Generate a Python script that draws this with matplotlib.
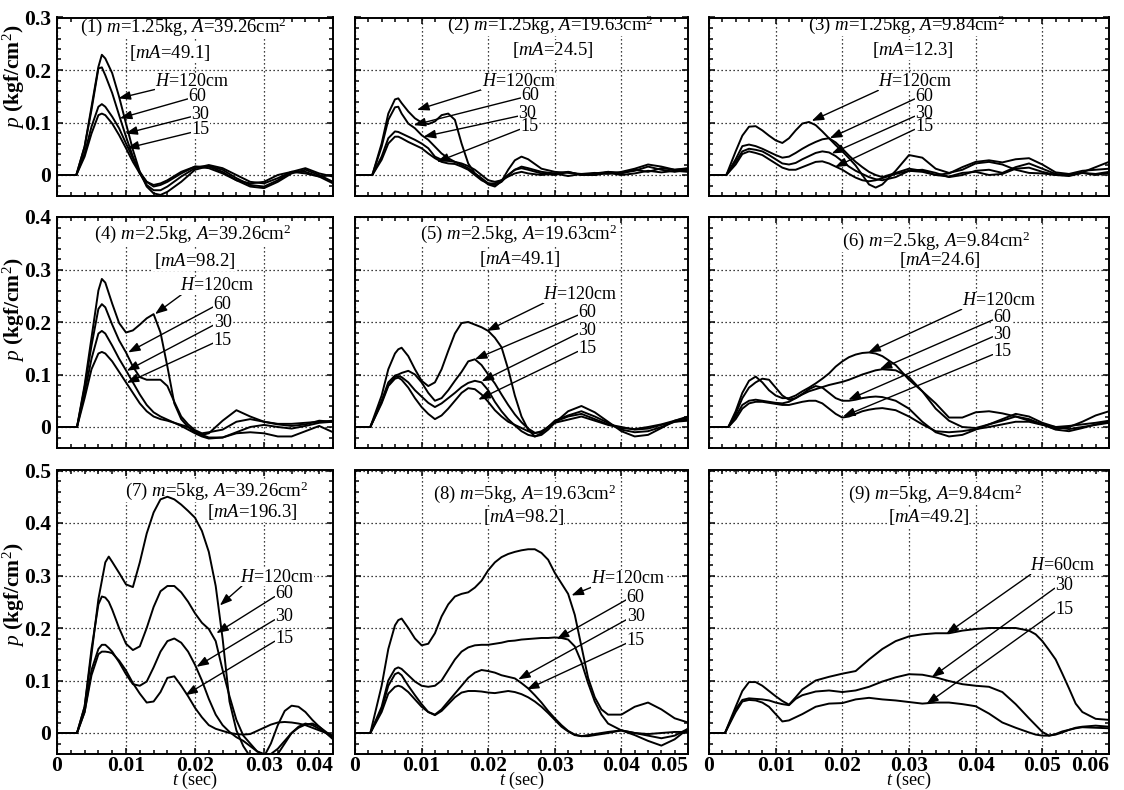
import matplotlib
matplotlib.use('Agg')
import matplotlib.pyplot as plt
from matplotlib.ticker import MultipleLocator, FormatStrFormatter

plt.rcParams['font.family'] = ['Liberation Serif', 'DejaVu Serif']
plt.rcParams['mathtext.fontset'] = 'custom'
plt.rcParams['mathtext.rm'] = 'Liberation Serif'
plt.rcParams['mathtext.it'] = 'Liberation Serif:italic'
plt.rcParams['mathtext.bf'] = 'Liberation Serif:bold'

# ---- data: time knots (sec) and pressure (kgf/cm2) ----
t1 = [0, 0.0028, 0.004, 0.005, 0.006, 0.0065, 0.007,
      0.008, 0.009, 0.010, 0.011, 0.012, 0.013, 0.014, 0.015, 0.016,
      0.018, 0.020, 0.022, 0.024, 0.026, 0.028, 0.030, 0.032, 0.034, 0.036, 0.038, 0.040]
p1_120 = [0, 0, 0.054, 0.13, 0.206, 0.229, 0.222,
          0.194, 0.149, 0.098, 0.048, 0.006, -0.022, -0.035, -0.038, -0.032,
          -0.013, 0.01, 0.017, 0.01, -0.006, -0.019, -0.022, -0.01, 0.006, 0.006, -0.003, -0.016]
p1_60 = [0, 0, 0.054, 0.124, 0.203, 0.205, 0.19,
         0.156, 0.114, 0.073, 0.035, 0.003, -0.019, -0.029, -0.029, -0.022,
         -0.003, 0.013, 0.019, 0.013, 0, -0.013, -0.016, -0.006, 0.006, 0.013, 0.003, -0.003]
p1_30 = [0, 0, 0.041, 0.092, 0.13, 0.135, 0.13,
         0.111, 0.089, 0.06, 0.032, 0.006, -0.013, -0.022, -0.019, -0.013,
         0.003, 0.016, 0.016, 0.006, -0.01, -0.022, -0.025, -0.013, 0.003, 0.01, 0, -0.013]
p1_15 = [0, 0, 0.035, 0.079, 0.114, 0.117, 0.114,
         0.098, 0.076, 0.051, 0.025, 0.003, -0.013, -0.019, -0.016, -0.01,
         0.006, 0.016, 0.013, 0.003, -0.01, -0.016, -0.013, 0, 0.006, 0.003, -0.003, 0]

t2 = [0, 0.0026, 0.004, 0.005, 0.006, 0.0065,
      0.007, 0.008, 0.009, 0.010, 0.011, 0.012, 0.013, 0.014, 0.015, 0.016,
      0.017, 0.018, 0.019, 0.020, 0.021, 0.022, 0.023, 0.024, 0.025,
      0.026, 0.028, 0.030, 0.032, 0.034, 0.036, 0.038, 0.040, 0.042, 0.044, 0.046, 0.048, 0.050]
p2_120 = [0, 0, 0.06, 0.117, 0.144, 0.146,
          0.137, 0.121, 0.108, 0.1, 0.097, 0.102, 0.114, 0.117, 0.105, 0.06,
          0.022, 0.003, -0.008, -0.018, -0.022, -0.012, 0.01, 0.028, 0.035,
          0.03, 0.012, 0.006, 0.004, 0.002, 0.004, 0.002, 0.006, 0.012, 0.02, 0.016, 0.01, 0.012]
p2_60 = [0, 0, 0.054, 0.105, 0.129, 0.13,
         0.117, 0.098, 0.089, 0.076, 0.067, 0.054, 0.041, 0.032, 0.025, 0.022,
         0.017, 0.01, 0.0, -0.01, -0.013, -0.01, 0.0, 0.01, 0.016,
         0.013, 0.006, 0.003, 0.006, 0.0, 0.003, 0.006, 0.004, 0.008, 0.016, 0.01, 0.006, 0.01]
p2_30 = [0, 0, 0.035, 0.07, 0.083, 0.082,
         0.079, 0.073, 0.067, 0.06, 0.051, 0.035, 0.029, 0.027, 0.025, 0.019,
         0.013, 0.003, -0.006, -0.016, -0.019, -0.013, 0.0, 0.01, 0.013,
         0.01, 0.003, 0.0, 0.006, 0.0, 0.0, 0.006, 0.003, 0.01, 0.006, 0.013, 0.01, 0.013]
p2_15 = [0, 0, 0.029, 0.06, 0.073, 0.073,
         0.07, 0.063, 0.057, 0.051, 0.041, 0.032, 0.025, 0.022, 0.021, 0.016,
         0.01, 0.0, -0.01, -0.016, -0.016, -0.01, -0.003, 0.003, 0.006,
         0.003, 0.0, 0.003, -0.002, 0.002, 0.0, 0.004, 0.0, 0.003, 0.008, 0.005, 0.008, 0.006]

t3 = [0, 0.0026,
      0.004, 0.005, 0.006, 0.007, 0.008, 0.009, 0.010, 0.011, 0.012, 0.013, 0.014,
      0.015, 0.016, 0.017, 0.018, 0.019, 0.020, 0.021, 0.022, 0.023, 0.024, 0.025,
      0.026, 0.028, 0.030, 0.032, 0.034, 0.036, 0.038, 0.040, 0.042, 0.044, 0.046,
      0.048, 0.050, 0.052, 0.054, 0.056, 0.058, 0.060]
p3_120 = [0, 0,
          0.045, 0.075, 0.092, 0.093, 0.085, 0.075, 0.066, 0.061, 0.07, 0.085, 0.098,
          0.101, 0.095, 0.083, 0.07, 0.057, 0.045, 0.032, 0.018, 0.0, -0.018, -0.024,
          -0.018, 0.008, 0.038, 0.033, 0.012, 0.004, 0.01, 0.022, 0.025, 0.02, 0.01,
          0.004, 0.003, 0.0, 0.0, 0.005, 0.015, 0.025]
p3_60 = [0, 0,
         0.03, 0.055, 0.058, 0.055, 0.05, 0.044, 0.038, 0.033, 0.035, 0.042, 0.05,
         0.057, 0.063, 0.068, 0.07, 0.062, 0.05, 0.037, 0.025, 0.015, 0.006, 0.0,
         -0.004, 0.004, 0.012, 0.008, 0.0, 0.003, 0.015, 0.025, 0.028, 0.024, 0.03,
         0.032, 0.02, 0.005, 0.002, 0.008, 0.01, 0.012]
p3_30 = [0, 0,
         0.025, 0.045, 0.05, 0.048, 0.045, 0.038, 0.03, 0.022, 0.02, 0.023, 0.03,
         0.036, 0.042, 0.045, 0.043, 0.036, 0.026, 0.016, 0.008, 0.002, -0.004, -0.008,
         -0.01, -0.004, 0.008, 0.01, 0.004, -0.004, 0.0, 0.008, 0.01, 0.004, 0.015,
         0.022, 0.012, 0.002, 0.0, 0.004, 0.002, 0.006]
p3_15 = [0, 0,
         0.02, 0.04, 0.045, 0.042, 0.038, 0.03, 0.022, 0.014, 0.01, 0.01, 0.015,
         0.02, 0.025, 0.026, 0.022, 0.016, 0.01, 0.002, -0.005, -0.01, -0.012, -0.01,
         -0.006, 0.002, 0.008, 0.006, 0.0, -0.003, 0.004, 0.006, 0.0, 0.002, 0.012,
         0.014, 0.006, 0.0, -0.002, 0.004, 0.0, 0.004]

t4 = [0, 0.0029, 0.004, 0.005, 0.006, 0.0065,
      0.007, 0.008, 0.009, 0.010, 0.011, 0.012, 0.013, 0.014,
      0.015, 0.016, 0.017, 0.018, 0.019, 0.020, 0.021, 0.022,
      0.024, 0.026, 0.028, 0.030, 0.032, 0.034, 0.036, 0.038, 0.040]
p4_120 = [0, 0, 0.08, 0.17, 0.26, 0.282,
          0.275, 0.235, 0.198, 0.18, 0.184, 0.195, 0.207, 0.215,
          0.18, 0.115, 0.045, 0.015, 0.0, -0.01, -0.015, -0.012,
          0.012, 0.032, 0.02, 0.01, 0.006, 0.006, 0.008, 0.01, 0.012]
p4_60 = [0, 0, 0.075, 0.155, 0.225, 0.234,
         0.228, 0.195, 0.165, 0.142, 0.115, 0.095, 0.09, 0.09,
         0.09, 0.078, 0.048, 0.02, 0.005, -0.006, -0.012, -0.01,
         -0.005, 0.01, 0.015, 0.01, 0.005, 0.002, 0.005, 0.012, 0.01]
p4_30 = [0, 0, 0.065, 0.13, 0.178, 0.183,
         0.178, 0.155, 0.13, 0.108, 0.085, 0.062, 0.042, 0.028,
         0.02, 0.014, 0.008, 0.002, -0.005, -0.012, -0.018, -0.022,
         -0.02, -0.01, 0.0, 0.004, 0.0, -0.003, 0.002, 0.008, 0.01]
p4_15 = [0, 0, 0.055, 0.11, 0.14, 0.143,
         0.14, 0.125, 0.105, 0.085, 0.065, 0.045, 0.03, 0.02,
         0.015, 0.012, 0.008, 0.004, 0.0, -0.008, -0.015, -0.02,
         -0.02, -0.012, -0.01, -0.012, -0.018, -0.018, -0.008, 0.002, -0.01]

t5 = [0, 0.0023, 0.004, 0.005, 0.006, 0.0065,
      0.007, 0.008, 0.009, 0.010, 0.011, 0.012, 0.013, 0.014, 0.015, 0.016, 0.017, 0.018,
      0.019, 0.020, 0.021, 0.022, 0.023, 0.024, 0.025, 0.026, 0.027, 0.028, 0.029, 0.030,
      0.032, 0.034, 0.036, 0.038, 0.040, 0.042, 0.044, 0.046, 0.048, 0.050]
p5_120 = [0, 0, 0.06, 0.11, 0.14, 0.148,
          0.151, 0.135, 0.11, 0.088, 0.078, 0.085, 0.11, 0.145, 0.178, 0.198, 0.2, 0.195,
          0.19, 0.183, 0.17, 0.152, 0.11, 0.06, 0.02, -0.005, -0.018, -0.015, -0.005, 0.008,
          0.03, 0.04, 0.028, 0.01, -0.008, -0.018, -0.015, -0.002, 0.012, 0.02]
p5_60 = [0, 0, 0.05, 0.085, 0.098, 0.1,
         0.103, 0.107, 0.1, 0.085, 0.065, 0.05, 0.055, 0.07, 0.088, 0.105, 0.125, 0.129,
         0.118, 0.1, 0.083, 0.062, 0.042, 0.024, 0.009, -0.003, -0.011, -0.01, 0.0, 0.012,
         0.022, 0.03, 0.02, 0.008, -0.005, -0.01, -0.008, 0.0, 0.01, 0.015]
p5_30 = [0, 0, 0.048, 0.08, 0.095, 0.097,
         0.095, 0.085, 0.07, 0.058, 0.046, 0.038, 0.045, 0.055, 0.065, 0.076, 0.084, 0.088,
         0.085, 0.07, 0.048, 0.03, 0.015, 0.003, -0.008, -0.015, -0.018, -0.012, 0.0, 0.01,
         0.02, 0.025, 0.015, 0.005, 0.0, -0.005, -0.003, 0.004, 0.01, 0.012]
p5_15 = [0, 0, 0.045, 0.078, 0.092, 0.094,
         0.09, 0.075, 0.055, 0.038, 0.025, 0.015, 0.022, 0.035, 0.05, 0.065, 0.074, 0.072,
         0.062, 0.048, 0.032, 0.02, 0.01, 0.004, -0.002, -0.008, -0.012, -0.008, 0.0, 0.008,
         0.014, 0.02, 0.012, 0.004, -0.002, -0.004, 0.0, 0.005, 0.012, 0.018]

t6 = [0, 0.0029,
      0.004, 0.005, 0.006, 0.007, 0.008, 0.009, 0.010, 0.011, 0.012, 0.013, 0.014, 0.015,
      0.016, 0.017, 0.018, 0.019, 0.020, 0.021, 0.022, 0.023, 0.024, 0.025, 0.026,
      0.028, 0.030, 0.032, 0.034, 0.036, 0.038, 0.040, 0.042, 0.044, 0.046, 0.048,
      0.050, 0.052, 0.054, 0.056, 0.058, 0.060]
p6_120 = [0, 0,
          0.03, 0.065, 0.088, 0.096, 0.085, 0.07, 0.06, 0.055, 0.055, 0.06, 0.068, 0.075,
          0.083, 0.092, 0.102, 0.115, 0.125, 0.133, 0.138, 0.141, 0.142, 0.14, 0.135,
          0.118, 0.09, 0.068, 0.045, 0.018, 0.018, 0.028, 0.03, 0.026, 0.02, 0.012,
          0.005, -0.004, 0.0, 0.01, 0.022, 0.03]
p6_60 = [0, 0,
         0.025, 0.055, 0.075, 0.085, 0.092, 0.09, 0.075, 0.06, 0.052, 0.055, 0.062, 0.068,
         0.072, 0.076, 0.08, 0.083, 0.086, 0.09, 0.095, 0.1, 0.104, 0.108, 0.11,
         0.108, 0.095, 0.068, 0.035, 0.012, 0.0, -0.002, 0.005, 0.015, 0.025, 0.02,
         0.008, 0.0, 0.002, 0.005, 0.008, 0.012]
p6_30 = [0, 0,
         0.02, 0.042, 0.05, 0.052, 0.05, 0.048, 0.046, 0.045, 0.048, 0.055, 0.063, 0.072,
         0.078, 0.075, 0.065, 0.055, 0.05, 0.05, 0.052, 0.055, 0.057, 0.058, 0.057,
         0.05, 0.035, 0.01, -0.01, -0.018, -0.015, -0.005, 0.005, 0.012, 0.02, 0.015,
         0.005, -0.005, -0.008, -0.002, 0.005, 0.01]
p6_15 = [0, 0,
         0.015, 0.035, 0.045, 0.048, 0.048, 0.046, 0.044, 0.042, 0.042, 0.045, 0.048, 0.05,
         0.05, 0.045, 0.035, 0.025, 0.018, 0.02, 0.025, 0.03, 0.033, 0.035, 0.036,
         0.032, 0.02, 0.005, -0.008, -0.01, -0.008, -0.004, 0.0, 0.005, 0.01, 0.01,
         0.004, 0.0, -0.004, 0.0, 0.004, 0.008]

t7 = [0, 0.0029, 0.004, 0.005, 0.006, 0.0065, 0.007, 0.0075,
      0.008, 0.009, 0.010, 0.011, 0.012, 0.013, 0.014, 0.015, 0.016, 0.017, 0.018,
      0.019, 0.020, 0.021, 0.022, 0.023, 0.024, 0.025, 0.026, 0.027, 0.028, 0.029,
      0.030, 0.031, 0.032, 0.033, 0.034, 0.035, 0.036, 0.037, 0.038, 0.039, 0.040]
p7_120 = [0, 0, 0.05, 0.15, 0.255, 0.29, 0.325, 0.336,
          0.326, 0.305, 0.283, 0.278, 0.325, 0.38, 0.42, 0.445, 0.45, 0.445, 0.435,
          0.423, 0.41, 0.385, 0.345, 0.28, 0.18, 0.06, 0.005, -0.025, -0.045, -0.05,
          -0.045, -0.02, 0.015, 0.042, 0.052, 0.05, 0.04, 0.025, 0.012, 0.0, -0.012]
p7_60 = [0, 0, 0.05, 0.16, 0.245, 0.26, 0.258, 0.25,
         0.235, 0.2, 0.17, 0.158, 0.165, 0.2, 0.24, 0.27, 0.28, 0.28, 0.268,
         0.25, 0.228, 0.21, 0.198, 0.175, 0.12, 0.07, 0.025, -0.005, -0.02, -0.035,
         -0.042, -0.04, -0.03, -0.015, 0.0, 0.01, 0.016, 0.018, 0.012, 0.002, -0.008]
p7_30 = [0, 0, 0.04, 0.12, 0.16, 0.168, 0.168, 0.162,
         0.155, 0.135, 0.112, 0.093, 0.09, 0.098, 0.125, 0.155, 0.175, 0.18, 0.172,
         0.155, 0.13, 0.1, 0.065, 0.035, 0.015, 0.002, -0.008, -0.015, -0.025, -0.035,
         -0.04, -0.045, -0.04, -0.02, 0.0, 0.012, 0.018, 0.015, 0.008, 0.0, -0.01]
p7_15 = [0, 0, 0.04, 0.11, 0.15, 0.155, 0.155, 0.154,
         0.152, 0.138, 0.119, 0.095, 0.075, 0.058, 0.06, 0.078, 0.105, 0.108, 0.09,
         0.07, 0.048, 0.03, 0.015, 0.008, 0.004, 0.0, -0.002, -0.003, -0.002, 0.004,
         0.01, 0.016, 0.02, 0.021, 0.02, 0.018, 0.015, 0.01, 0.005, 0.0, -0.005]

t8 = [0, 0.0023, 0.004, 0.005, 0.006, 0.0065,
      0.007, 0.008, 0.009, 0.010, 0.011, 0.012, 0.013, 0.014, 0.015, 0.016, 0.017,
      0.018, 0.019, 0.020, 0.021, 0.022, 0.023, 0.024, 0.025, 0.026, 0.027, 0.028,
      0.029, 0.030, 0.031, 0.032, 0.033, 0.034, 0.035, 0.036, 0.037, 0.038,
      0.040, 0.042, 0.044, 0.046, 0.048, 0.050]
p8_120 = [0, 0, 0.09, 0.16, 0.205, 0.215,
          0.218, 0.2, 0.18, 0.167, 0.17, 0.19, 0.222, 0.245, 0.26, 0.265, 0.268,
          0.277, 0.29, 0.31, 0.325, 0.335, 0.341, 0.345, 0.348, 0.35, 0.35, 0.343,
          0.33, 0.305, 0.285, 0.265, 0.225, 0.165, 0.105, 0.068, 0.045, 0.035,
          0.035, 0.05, 0.058, 0.045, 0.028, 0.02]
p8_60 = [0, 0, 0.05, 0.1, 0.122, 0.125,
         0.122, 0.11, 0.098, 0.09, 0.088, 0.09, 0.1, 0.12, 0.14, 0.155, 0.163,
         0.167, 0.168, 0.168, 0.17, 0.172, 0.175, 0.176, 0.178, 0.179, 0.18, 0.181,
         0.181, 0.182, 0.181, 0.178, 0.165, 0.135, 0.095, 0.06, 0.035, 0.018,
         0.005, -0.004, -0.015, -0.024, -0.012, 0.008]
p8_30 = [0, 0, 0.045, 0.09, 0.112, 0.115,
         0.11, 0.09, 0.072, 0.055, 0.04, 0.035, 0.045, 0.06, 0.075, 0.09, 0.105,
         0.115, 0.12, 0.118, 0.115, 0.11, 0.107, 0.104, 0.095, 0.085, 0.072, 0.058,
         0.042, 0.028, 0.015, 0.004, -0.003, -0.006, -0.006, -0.004, -0.002, 0.0,
         0.005, 0.0, -0.005, -0.01, -0.005, 0.008]
p8_15 = [0, 0, 0.04, 0.075, 0.088, 0.09,
         0.088, 0.078, 0.064, 0.05, 0.04, 0.034, 0.042, 0.055, 0.068, 0.077, 0.08,
         0.08, 0.079, 0.077, 0.076, 0.078, 0.08, 0.078, 0.074, 0.068, 0.06, 0.05,
         0.038, 0.025, 0.012, 0.003, -0.004, -0.006, -0.004, -0.002, 0.0, 0.002,
         0.005, 0.0, -0.002, 0.0, 0.002, 0.002]

t9 = [0, 0.0024,
      0.004, 0.005, 0.006, 0.007, 0.008, 0.009, 0.010, 0.011, 0.012, 0.013, 0.014,
      0.016, 0.018, 0.020, 0.022, 0.024, 0.026, 0.028, 0.030, 0.032, 0.034, 0.036,
      0.038, 0.040, 0.042, 0.044, 0.046, 0.048,
      0.049, 0.050, 0.051, 0.052, 0.053, 0.054, 0.055, 0.056, 0.058, 0.060]
p9_60 = [0, 0,
         0.05, 0.08, 0.097, 0.097, 0.09, 0.08, 0.07, 0.061, 0.054, 0.068, 0.083,
         0.1, 0.107, 0.113, 0.118, 0.14, 0.16, 0.175, 0.184, 0.188, 0.19, 0.19,
         0.195, 0.198, 0.2, 0.2, 0.2, 0.195,
         0.188, 0.175, 0.158, 0.14, 0.113, 0.085, 0.056, 0.04, 0.027, 0.025]
p9_30 = [0, 0,
         0.045, 0.063, 0.066, 0.065, 0.064, 0.062, 0.058, 0.055, 0.053, 0.065, 0.072,
         0.079, 0.081, 0.078, 0.081, 0.088, 0.098, 0.106, 0.112, 0.111, 0.106, 0.099,
         0.093, 0.09, 0.088, 0.078, 0.055, 0.028,
         0.015, 0.002, -0.005, -0.003, 0.001, 0.006, 0.01, 0.012, 0.014, 0.012]
p9_15 = [0, 0,
         0.04, 0.06, 0.063, 0.062, 0.058, 0.05, 0.036, 0.022, 0.024, 0.03, 0.036,
         0.05, 0.056, 0.057, 0.064, 0.067, 0.064, 0.062, 0.059, 0.056, 0.058, 0.058,
         0.055, 0.051, 0.037, 0.02, 0.01, 0.001,
         -0.003, -0.005, -0.005, -0.002, 0.003, 0.006, 0.009, 0.011, 0.01, 0.009]

titles = [r'(1) $m$=1.25kg, $A$=39.26cm$^2$', r'(2) $m$=1.25kg, $A$=19.63cm$^2$',
          r'(3) $m$=1.25kg, $A$=9.84cm$^2$', r'(4) $m$=2.5kg, $A$=39.26cm$^2$',
          r'(5) $m$=2.5kg, $A$=19.63cm$^2$', r'(6) $m$=2.5kg, $A$=9.84cm$^2$',
          r'(7) $m$=5kg, $A$=39.26cm$^2$', r'(8) $m$=5kg, $A$=19.63cm$^2$',
          r'(9) $m$=5kg, $A$=9.84cm$^2$']
ma_labels = ['49.1', '24.5', '12.3', '98.2', '49.1', '24.6', '196.3', '98.2', '49.2']

x_max = [0.04, 0.05, 0.06]
y_max = [0.3, 0.4, 0.5]

panels = [
    (t1, [p1_120, p1_60, p1_30, p1_15]), (t2, [p2_120, p2_60, p2_30, p2_15]),
    (t3, [p3_120, p3_60, p3_30, p3_15]), (t4, [p4_120, p4_60, p4_30, p4_15]),
    (t5, [p5_120, p5_60, p5_30, p5_15]), (t6, [p6_120, p6_60, p6_30, p6_15]),
    (t7, [p7_120, p7_60, p7_30, p7_15]), (t8, [p8_120, p8_60, p8_30, p8_15]),
    (t9, [p9_60, p9_30, p9_15]),
]

# annotation layout per panel: title centre, [mA] centre, label text positions, arrow heads
layout = [
    ((0.0183, 0.283), (0.0164, 0.232),
     [(0.0142, 0.178), (0.019, 0.15), (0.0195, 0.116), (0.0195, 0.086)],
     [(0.0089, 0.146), (0.0091, 0.108), (0.0099, 0.079), (0.0101, 0.051)]),
    ((0.0294, 0.286), (0.0297, 0.238),
     [(0.019, 0.178), (0.025, 0.152), (0.0245, 0.117), (0.0248, 0.092)],
     [(0.0093, 0.124), (0.0088, 0.095), (0.0103, 0.073), (0.0123, 0.025)]),
    ((0.0296, 0.286), (0.0306, 0.238),
     [(0.0254, 0.178), (0.0309, 0.15), (0.0309, 0.117), (0.0309, 0.092)],
     [(0.0154, 0.103), (0.0181, 0.07), (0.0184, 0.041), (0.0189, 0.015)]),
    ((0.0197, 0.368), (0.0199, 0.317),
     [(0.0178, 0.269), (0.0227, 0.234), (0.0227, 0.199), (0.0227, 0.165)],
     [(0.0142, 0.215), (0.0103, 0.142), (0.0101, 0.107), (0.0101, 0.084)]),
    ((0.0246, 0.368), (0.0248, 0.32),
     [(0.0283, 0.253), (0.0335, 0.218), (0.0335, 0.183), (0.0335, 0.149)],
     [(0.0198, 0.183), (0.018, 0.129), (0.019, 0.087), (0.0185, 0.052)]),
    ((0.034, 0.355), (0.0346, 0.318),
     [(0.0379, 0.241), (0.0426, 0.209), (0.0426, 0.177), (0.0426, 0.143)],
     [(0.0239, 0.142), (0.0256, 0.11), (0.0209, 0.052), (0.0201, 0.02)]),
    ((0.0231, 0.462), (0.0283, 0.421),
     [(0.0265, 0.297), (0.0316, 0.265), (0.0316, 0.221), (0.0316, 0.18)],
     [(0.0236, 0.243), (0.0231, 0.19), (0.0202, 0.126), (0.0186, 0.072)]),
    ((0.0254, 0.456), (0.0253, 0.411),
     [(0.0355, 0.294), (0.0408, 0.259), (0.0408, 0.221), (0.0408, 0.176)],
     [(0.0325, 0.262), (0.0303, 0.179), (0.0245, 0.102), (0.0258, 0.083)]),
    ((0.0339, 0.456), (0.0329, 0.411),
     [(0.0481, 0.319), (0.0519, 0.281), (0.0519, 0.236)],
     [(0.0356, 0.189), (0.0334, 0.106), (0.0326, 0.055)]),
]

W, H = 1124, 790
col_px = [(57, 276), (355, 333), (709, 400)]        # left, width (px)
row_px = [(196, 178.5), (448, 231), (754, 283.5)]   # bottom, height (px)
ylabel_y = [0.667, 0.597, 0.561]

fig = plt.figure(figsize=(W / 100, H / 100), dpi=100)
FS_TXT = 13.5
FS_TICK = 15.5

for k, (t, curves) in enumerate(panels):
    r, c = divmod(k, 3)
    left, w = col_px[c]
    bottom, h = row_px[r]
    ax = fig.add_axes([left / W, 1 - bottom / H, w / W, h / H])
    for p in curves:
        ax.plot(t, p, color='black', lw=1.4, zorder=3)
    ax.set_xlim(0, x_max[c])
    ax.set_ylim(-0.04, y_max[r])
    nx = int(round(x_max[c] / 0.01))
    ny = int(round(y_max[r] / 0.1))
    ax.set_xticks([i * 0.01 for i in range(nx + 1)])
    ax.set_yticks([i * 0.1 for i in range(ny + 1)])
    ax.xaxis.set_minor_locator(MultipleLocator(0.002))
    ax.yaxis.set_minor_locator(MultipleLocator(0.02))
    ax.xaxis.set_major_formatter(FormatStrFormatter('%g'))
    ax.yaxis.set_major_formatter(FormatStrFormatter('%g'))
    ax.tick_params(which='both', direction='in', top=True, right=True, width=1.1,
                   labelsize=FS_TICK)
    ax.tick_params(axis='x', pad=1.5)
    ax.tick_params(axis='y', pad=4)
    ax.tick_params(which='major', length=4.5)
    ax.tick_params(which='minor', length=3)
    for lab in ax.get_xticklabels() + ax.get_yticklabels():
        lab.set_fontweight('bold')
    ax.get_xticklabels()[-1].set_horizontalalignment('right')
    if r < 2:
        ax.tick_params(labelbottom=False)
    else:
        ax.set_xlabel(r'$t$ (sec)', fontsize=13, labelpad=-4.5)
    if c > 0:
        ax.tick_params(labelleft=False)
    else:
        ax.set_ylabel(r'$p$ (kgf/cm$^2$)', fontsize=15.5, fontweight='bold')
        ax.yaxis.set_label_coords(-0.109, ylabel_y[r])
    for s in ax.spines.values():
        s.set_linewidth(1.4)
    ax.grid(True, which='major', color='black', lw=0.9, ls=(0, (1, 2.2)), zorder=1)

    title_xy, ma_xy, text_xy, heads = layout[k]
    box = dict(fc='white', ec='none', pad=0.2)
    ax.text(*title_xy, titles[k], ha='center', va='center', fontsize=FS_TXT,
            bbox=box, zorder=2)
    ax.text(*ma_xy, r'[$mA$=' + ma_labels[k] + ']', ha='center', va='center',
            fontsize=FS_TXT, bbox=box, zorder=2)
    names = ['120', '60', '30', '15'] if len(curves) == 4 else ['60', '30', '15']
    for i, (txt, head) in enumerate(zip(text_xy, heads)):
        label = r'$H$=' + names[i] + 'cm' if i == 0 else names[i]
        rel = (0.06, 0.1) if i == 0 else (0.0, 0.35)
        ax.annotate(label, xy=head, xytext=txt, ha='left', va='center', fontsize=13,
                    bbox=box, zorder=2,
                    arrowprops=dict(arrowstyle='-|>,head_length=0.55,head_width=0.2',
                                    color='black', lw=1.0, shrinkA=0, shrinkB=0,
                                    relpos=rel, zorder=4))

fig.savefig('out.png', dpi=100)
